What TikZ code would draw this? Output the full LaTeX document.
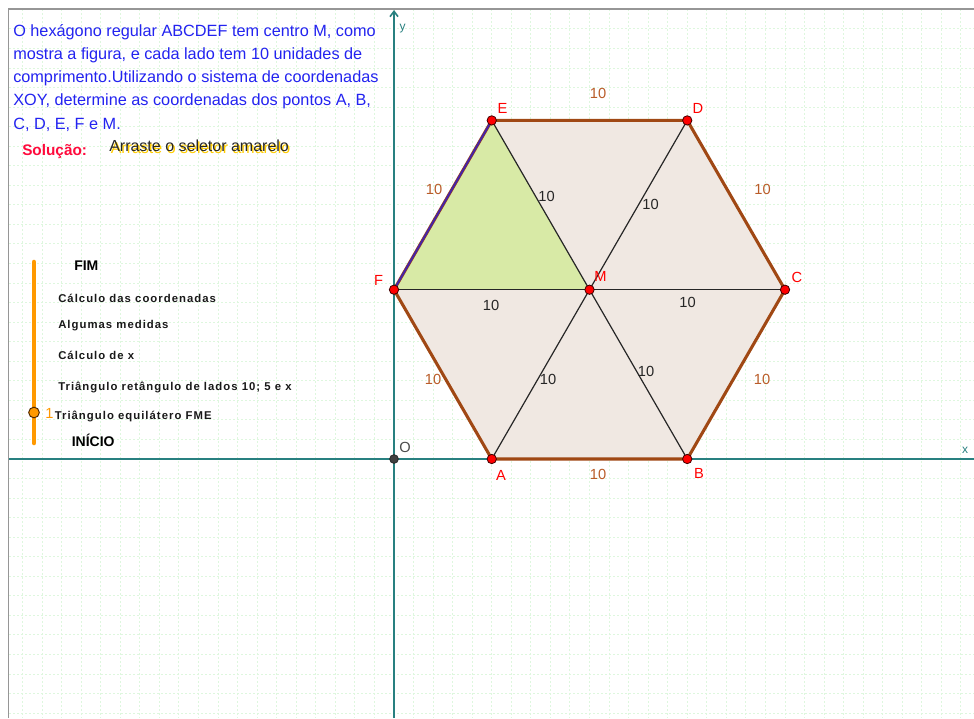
\documentclass[tikz,border=0pt]{standalone}
\usepackage{fontspec}
\setmainfont{Liberation Sans}
\newfontfamily\spacedfont[LetterSpace=9]{Liberation Sans}
\usetikzlibrary{arrows.meta}
\definecolor{gridgreen}{RGB}{222,247,222}
\definecolor{framegray}{RGB}{150,150,150}
\definecolor{axisteal}{RGB}{40,128,128}
\definecolor{hexfill}{RGB}{240,232,226}
\definecolor{trifill}{RGB}{216,234,166}
\definecolor{hexbrown}{RGB}{160,72,20}
\definecolor{lblbrown}{RGB}{185,92,40}
\definecolor{feblue}{RGB}{70,35,165}
\definecolor{ptred}{RGB}{255,0,0}
\definecolor{txtblue}{RGB}{35,35,240}
\definecolor{solred}{RGB}{255,10,60}
\definecolor{slidorange}{RGB}{255,153,0}
\definecolor{shadowyellow}{RGB}{255,205,0}
\tikzset{
  gridline/.style={draw=gridgreen, line width=0.75pt, dash pattern=on 1.5pt off 1.5pt},
  axisline/.style={draw=axisteal, line width=1.2pt},
  hexedge/.style={draw=hexbrown, line width=2.3pt, line cap=round},
  innerline/.style={draw=black!85, line width=0.9pt},
  ptmark/.style={circle, fill=ptred, draw=black!75!red, line width=0.6pt, minimum size=7pt, inner sep=0pt},
  omark/.style={circle, fill=black!75, draw=black!85, line width=0.6pt, minimum size=6.5pt, inner sep=0pt},
  ptlabel/.style={text=ptred, font=\fontsize{11}{13}\selectfont, inner sep=0pt},
  edgelabel/.style={text=lblbrown, font=\fontsize{11}{13}\selectfont, inner sep=0pt},
  innerlabel/.style={text=black!85, font=\fontsize{11}{13}\selectfont, inner sep=0pt},
  problemtext/.style={text=txtblue, font=\fontsize{12.2}{14}\selectfont, anchor=base west, inner sep=0pt},
  steplabel/.style={text=black!90, font=\spacedfont\bfseries\fontsize{8.5}{10}\selectfont, anchor=base west, inner sep=0pt},
  endlabel/.style={text=black, font=\bfseries\fontsize{10.5}{12}\selectfont, anchor=base west, inner sep=0pt},
}
\begin{document}
\begin{tikzpicture}[x=0.75pt,y=-0.75pt]
\useasboundingbox (0,0) rectangle (974,718);
\fill[white] (0,0) rectangle (974,718);
% grid
\foreach \k in {-19,...,29} \draw[gridline] ({394+\k*19.55},9) -- ({394+\k*19.55},718);
\foreach \k in {-22,...,13} \draw[gridline] (9,{459+\k*19.55}) -- (974,{459+\k*19.55});
% frame
\draw[framegray, line width=1.3pt] (8.5,718) -- (8.5,9) -- (974,9);
% geometry
\coordinate (O) at (394,459);
\coordinate (A) at (491.75,459);
\coordinate (B) at (687.25,459);
\coordinate (C) at (785,289.7);
\coordinate (D) at (687.25,120.4);
\coordinate (E) at (491.75,120.4);
\coordinate (F) at (394,289.7);
\coordinate (M) at (589.5,289.7);
\fill[hexfill] (A) -- (B) -- (C) -- (D) -- (E) -- (F) -- cycle;
\fill[trifill] (F) -- (M) -- (E) -- cycle;
% axes
\coordinate (xend) at (974,459);
\coordinate (xstart) at (9,459);
\coordinate (ytop) at (394,10);
\coordinate (ybot) at (394,718);
\draw[axisline] (xstart) -- (xend);
\draw[axisline, -{Straight Barb[length=4pt,width=6pt]}] (ybot) -- (ytop);
% hexagon edges
\draw[hexedge] (A) -- (B) -- (C) -- (D) -- (E);
\draw[hexedge] (F) -- (A);
\draw[hexedge] (E) -- (F);
\draw[draw=feblue, line width=1.5pt] (E) -- (F);
% inner segments
\draw[innerline] (F) -- (C);
\draw[innerline] (E) -- (M) -- (B);
\draw[innerline] (D) -- (M) -- (A);
% points
\node[omark] (Op) at (O) {};
\foreach \p in {A,B,C,D,E,F,M} \node[ptmark] (\p p) at (\p) {};
% point labels
\node[text=black!70, font=\fontsize{11}{13}\selectfont, inner sep=0pt] (Ol) at (405,447) {O};
\node[ptlabel] (Al) at (501,475) {A};
\node[ptlabel] (Bl) at (699,473) {B};
\node[ptlabel] (Cl) at (797,277) {C};
\node[ptlabel] (Dl) at (698,108) {D};
\node[ptlabel] (El) at (502.5,108) {E};
\node[ptlabel] (Fl) at (378.5,280) {F};
\node[ptlabel] (Ml) at (600.5,276) {M};
% axis labels
\node[text=axisteal, font=\fontsize{9}{11}\selectfont, inner sep=0pt] (xl) at (965,450) {x};
\node[text=axisteal, font=\fontsize{9}{11}\selectfont, inner sep=0pt] (yl) at (402.5,29) {y};
% edge labels
\node[edgelabel] (lED) at (598,93) {10};
\node[edgelabel] (lDC) at (762.5,189) {10};
\node[edgelabel] (lCB) at (762,379) {10};
\node[edgelabel] (lAB) at (598,474) {10};
\node[edgelabel] (lFA) at (433,379) {10};
\node[edgelabel] (lFE) at (434,189) {10};
% inner labels
\node[innerlabel] (lEM) at (546.5,196) {10};
\node[innerlabel] (lMD) at (650.5,204) {10};
\node[innerlabel] (lFM) at (491,305) {10};
\node[innerlabel] (lMC) at (687.5,302) {10};
\node[innerlabel] (lMA) at (548,379) {10};
\node[innerlabel] (lMB) at (646,371) {10};
% problem text
\node[problemtext] (t1) at (13,36) {O hexágono regular ABCDEF tem centro M, como};
\node[problemtext] (t2) at (13,59.3) {mostra a figura, e cada lado tem 10 unidades de};
\node[problemtext] (t3) at (13,82.6) {comprimento.Utilizando o sistema de coordenadas};
\node[problemtext] (t4) at (13,105.9) {XOY, determine as coordenadas dos pontos A, B,};
\node[problemtext] (t5) at (13,129.2) {C, D, E, F e M.};
\node[text=solred, font=\bfseries\fontsize{11.5}{13}\selectfont, anchor=base west, inner sep=0pt] (sol) at (22,155) {Solução:};
\node[text=shadowyellow, font=\fontsize{12}{14}\selectfont, anchor=base west, inner sep=0pt] (dragshadow) at (110.5,153) {Arraste o seletor amarelo};
\node[text=black!85, font=\fontsize{12}{14}\selectfont, anchor=base west, inner sep=0pt] (drag) at (109,151.7) {Arraste o seletor amarelo};
% slider
\coordinate (stop) at (34,262);
\coordinate (sbot) at (34,443);
\draw[draw=slidorange, line width=3.4pt, line cap=round] (stop) -- (sbot);
\node[circle, fill=slidorange, draw=black!70!orange, line width=0.7pt, minimum size=8pt, inner sep=0pt] (knob) at (34,412.5) {};
\node[text=slidorange, font=\fontsize{11}{13}\selectfont, anchor=base west, inner sep=0pt] (one) at (45,418) {1};
\node[endlabel] (fim) at (74,270.5) {FIM};
\node[steplabel] (s5) at (58,302) {Cálculo das coordenadas};
\node[steplabel] (s4) at (58,328.5) {Algumas medidas};
\node[steplabel] (s3) at (58,359.5) {Cálculo de x};
\node[steplabel] (s2) at (58,390) {Triângulo retângulo de lados 10; 5 e x};
\node[steplabel] (s1) at (54.5,419.5) {Triângulo equilátero FME};
\node[endlabel] (ini) at (71.5,446.5) {INÍCIO};
\end{tikzpicture}
\end{document}
